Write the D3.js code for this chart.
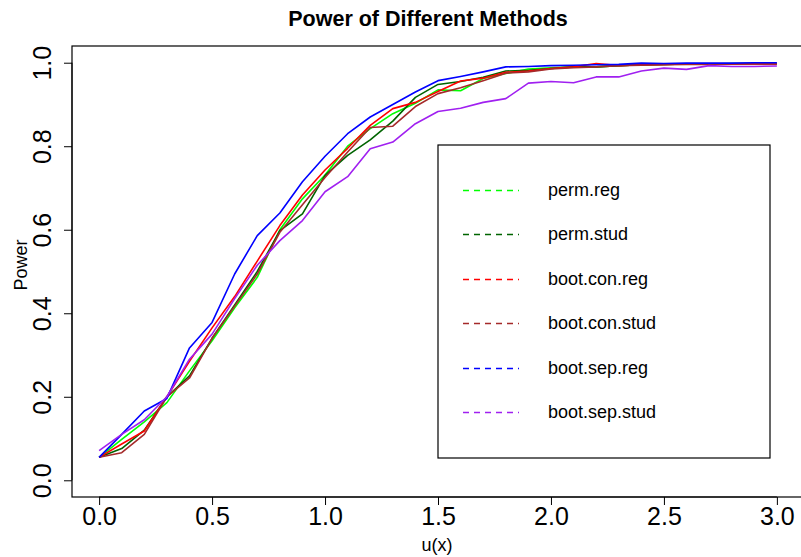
<!DOCTYPE html>
<html>
<head>
<meta charset="utf-8">
<script src="https://cdn.jsdelivr.net/npm/d3@7"></script>
<style>
	body { margin: 0; background: #fff; }
	svg { font-family: "Liberation Sans", Arial, sans-serif; }
</style>
</head>
<body>
<svg class="canvas" width="801" height="557"></svg>
<script>
var uValues = d3.range(31).map(function(i) { return i / 10; });

var permReg = [0.055, 0.098, 0.140, 0.186, 0.262, 0.334, 0.413, 0.486, 0.600, 0.674, 0.731, 0.800, 0.842, 0.878, 0.903, 0.935, 0.933, 0.962, 0.974, 0.985, 0.988, 0.990, 0.990, 0.993, 0.995, 0.996, 0.997, 0.997, 0.998, 0.998, 0.998];
var permStud = [0.055, 0.076, 0.120, 0.200, 0.250, 0.340, 0.420, 0.500, 0.598, 0.638, 0.730, 0.778, 0.815, 0.860, 0.917, 0.948, 0.955, 0.965, 0.980, 0.982, 0.986, 0.990, 0.990, 0.993, 0.995, 0.996, 0.997, 0.997, 0.997, 0.998, 0.998];
var bootConReg = [0.055, 0.087, 0.118, 0.200, 0.285, 0.365, 0.440, 0.525, 0.610, 0.683, 0.743, 0.795, 0.850, 0.890, 0.905, 0.931, 0.956, 0.963, 0.977, 0.980, 0.986, 0.990, 0.998, 0.993, 0.995, 0.996, 0.997, 0.997, 0.997, 0.997, 0.997];
var bootConStud = [0.055, 0.066, 0.110, 0.200, 0.245, 0.340, 0.417, 0.494, 0.594, 0.660, 0.725, 0.786, 0.845, 0.848, 0.895, 0.926, 0.940, 0.957, 0.975, 0.978, 0.985, 0.988, 0.990, 0.993, 0.994, 0.995, 0.996, 0.996, 0.997, 0.997, 0.997];
var bootSepReg = [0.055, 0.110, 0.166, 0.196, 0.317, 0.378, 0.494, 0.586, 0.640, 0.715, 0.776, 0.830, 0.870, 0.900, 0.930, 0.957, 0.967, 0.978, 0.990, 0.991, 0.993, 0.994, 0.995, 0.996, 0.999, 0.998, 0.999, 0.999, 0.999, 1.000, 1.000];
var bootSepStud = [0.071, 0.110, 0.145, 0.200, 0.290, 0.350, 0.435, 0.515, 0.574, 0.622, 0.691, 0.727, 0.794, 0.810, 0.854, 0.883, 0.891, 0.905, 0.914, 0.951, 0.955, 0.952, 0.966, 0.966, 0.980, 0.987, 0.984, 0.993, 0.991, 0.991, 0.992];

var seriesNames = ['perm.reg', 'perm.stud', 'boot.con.reg', 'boot.con.stud', 'boot.sep.reg', 'boot.sep.stud'];
var seriesColors = ['#00ff00', '#006400', '#ff0000', '#a52a2a', '#0000ff', '#a020f0'];
var seriesValues = [permReg, permStud, bootConReg, bootConStud, bootSepReg, bootSepStud];

var xTicks = [0, 0.5, 1, 1.5, 2, 2.5, 3];
var yTicks = [0, 0.2, 0.4, 0.6, 0.8, 1];

var svg = d3.select('.canvas');

// plot region (R style 4% padding on both axes)
var box = { left: 72, right: 804, top: 46, bottom: 497 };

var x = d3.scaleLinear().domain([-0.12, 3.12]).range([box.left, box.right]);
var y = d3.scaleLinear().domain([-0.04, 1.04]).range([box.bottom, box.top]);

// SERIES
var line = d3.line()
	.x(function(d, i) { return x(uValues[i]); })
	.y(function(d) { return y(d); });

svg.append('g')
	.selectAll('path')
	.data(seriesValues)
	.enter().append('path')
	.attr('d', line)
	.attr('fill', 'none')
	.attr('stroke', function(d, i) { return seriesColors[i]; })
	.attr('stroke-width', 1.6)
	.attr('stroke-linejoin', 'round');

// BOX
svg.append('rect')
	.attr('x', box.left)
	.attr('y', box.top)
	.attr('width', box.right - box.left)
	.attr('height', box.bottom - box.top)
	.attr('fill', 'none')
	.attr('stroke', '#000')
	.attr('stroke-width', 1.2);

// X AXIS
var xAxis = svg.append('g')
	.attr('transform', 'translate(0,' + box.bottom + ')')
	.call(d3.axisBottom(x).tickValues(xTicks).tickSize(8).tickPadding(2)
		.tickFormat(d3.format('.1f')));
xAxis.select('.domain').attr('d', 'M' + x(0) + ',0H' + x(3));
xAxis.selectAll('text').attr('font-size', 25).attr('font-family', null).attr('fill', '#000');
xAxis.selectAll('line').attr('stroke', '#000');

// Y AXIS
var yAxis = svg.append('g')
	.attr('transform', 'translate(' + box.left + ',0)')
	.call(d3.axisLeft(y).tickValues(yTicks).tickSize(8).tickFormat(d3.format('.1f')));
yAxis.select('.domain').attr('d', 'M0,' + y(0) + 'V' + y(1));
yAxis.selectAll('line').attr('stroke', '#000');
yAxis.selectAll('text')
	.attr('font-size', 25)
	.attr('font-family', null)
	.attr('fill', '#000')
	.attr('x', null)
	.attr('text-anchor', 'middle')
	.attr('transform', 'translate(-30,0) rotate(-90)')
	.attr('y', 0)
	.attr('dy', '0.35em');

// TITLES
svg.append('text')
	.attr('x', 428)
	.attr('y', 26)
	.attr('text-anchor', 'middle')
	.attr('font-size', 21.5)
	.attr('font-weight', 'bold')
	.text('Power of Different Methods');

svg.append('text')
	.attr('x', 437)
	.attr('y', 551)
	.attr('text-anchor', 'middle')
	.attr('font-size', 18)
	.text('u(x)');

svg.append('text')
	.attr('transform', 'translate(27,265) rotate(-90)')
	.attr('text-anchor', 'middle')
	.attr('font-size', 18)
	.text('Power');

// LEGEND
var legend = svg.append('g').attr('class', 'legend');
legend.append('rect')
	.attr('x', 438)
	.attr('y', 145)
	.attr('width', 332)
	.attr('height', 313)
	.attr('fill', '#fff')
	.attr('stroke', '#000')
	.attr('stroke-width', 1.2);

var items = legend.selectAll('g')
	.data(seriesNames)
	.enter().append('g')
	.attr('transform', function(d, i) { return 'translate(0,' + Math.round(190 + i * 44.4) + ')'; });

items.append('line')
	.attr('x1', 463)
	.attr('x2', 519)
	.attr('y1', 0.5)
	.attr('y2', 0.5)
	.attr('stroke', function(d, i) { return seriesColors[i]; })
	.attr('stroke-width', 1.5)
	.attr('stroke-dasharray', '6,5');

items.append('text')
	.attr('x', 548)
	.attr('dy', '0.35em')
	.attr('font-size', 18)
	.text(function(d) { return d; });
</script>
</body>
</html>
